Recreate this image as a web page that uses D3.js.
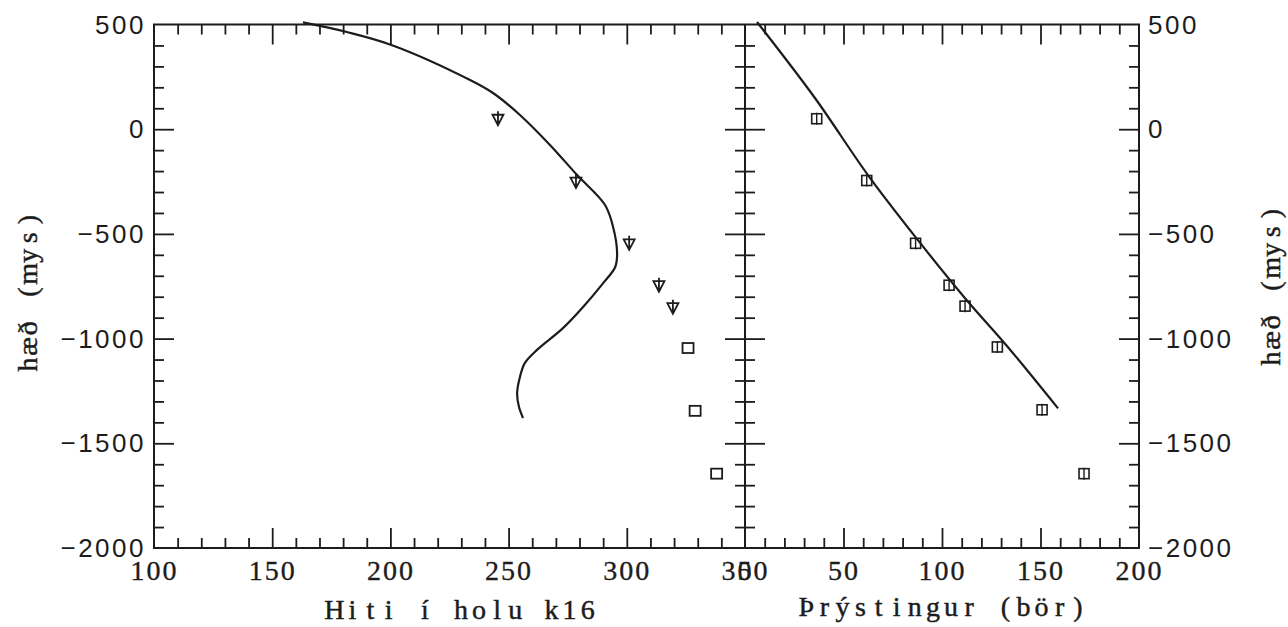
<!DOCTYPE html>
<html>
<head>
<meta charset="utf-8">
<script src="https://cdn.jsdelivr.net/npm/d3@7"></script>
<style>
  body { margin: 0; background: #fff; }
  svg { display: block; }
</style>
</head>
<body>
<div id="container"></div>
<script>
// <--------- data --------->
// left panel: temperature curve (Hiti) vs depth
let curveTemp  = [163, 181.6, 201, 233.7, 243.4, 254.8, 267.5, 278.9, 290.8, 294.2, 295.9, 295.1, 290, 281.5, 273, 262, 256.9, 254.8, 253.6, 254.4, 256.1];
let curveDepth = [510, 464, 400, 235, 173, 68, -75, -218, -362, -467, -591, -658, -735, -849, -950, -1054, -1116, -1183, -1260, -1327, -1379];

// left panel: triangle markers
let triTemp  = [245.5, 278.5, 301, 313.6, 319.5];
let triDepth = [50, -250, -545, -745, -850];

// left panel: square markers
let sqTemp  = [325.9, 328.9, 338];
let sqDepth = [-1045, -1345, -1645];

// right panel: pressure points (Þrýstingur) vs depth
let presVal   = [36.4, 61.8, 86.6, 103.6, 111.7, 128.1, 150.8, 172.1];
let presDepth = [50, -245, -545, -745, -845, -1040, -1340, -1645];

// right panel: pressure line
let lineVal   = [6.1, 35.5, 62.4, 87.8, 111.7, 133.5, 158.9];
let lineDepth = [512, 149, -219, -530, -807, -1041, -1333];

// tick labels
let tempTicks  = [100, 150, 200, 250, 300, 350];
let presTicks  = [0, 50, 100, 150, 200];
let depthTicks = [500, 0, -500, -1000, -1500, -2000];

// <--------- canvas --------->
let W = 1288, H = 627;
let L = 154, M = 745, R = 1139, T = 24.5, B = 548;
let ink = "#1c1c1c";

let viz = d3.select("#container")
  .append("svg")
    .attr("width", W)
    .attr("height", H)
    .style("background-color", "#fff");

let xL = d3.scaleLinear().domain([100, 350]).range([L, M]);
let xR = d3.scaleLinear().domain([0, 200]).range([M, R]);
let y  = d3.scaleLinear().domain([-2000, 500]).range([B, T]);

// minor / major tick values
let tempMinor  = d3.range(110, 350, 10).filter(d => d % 50 != 0);
let tempMajor  = [150, 200, 250, 300];
let presMinor  = d3.range(10, 200, 10).filter(d => d % 50 != 0);
let presMajor  = [50, 100, 150];
let depthMinor = d3.range(-1900, 500, 100).filter(d => d % 500 != 0);
let depthMajor = [-1500, -1000, -500, 0];

function tickGroup(axis, vals, size, tx, ty){
  let g = viz.append("g")
    .attr("transform", "translate(" + tx + "," + ty + ")")
    .call(axis.tickValues(vals).tickSize(size).tickSizeOuter(0).tickFormat(""));
  g.select(".domain").remove();
  g.selectAll("line").attr("stroke", ink).attr("stroke-width", 1.8);
  return g;
}

// left panel ticks
tickGroup(d3.axisTop(xL), tempMinor, -10, 0, T);
tickGroup(d3.axisTop(xL), tempMajor, -20, 0, T);
tickGroup(d3.axisBottom(xL), tempMinor, -10, 0, B);
tickGroup(d3.axisBottom(xL), tempMajor, -20, 0, B);
tickGroup(d3.axisLeft(y), depthMinor, -10, L, 0);
tickGroup(d3.axisLeft(y), depthMajor, -20, L, 0);

// middle divider, ticks both sides
tickGroup(d3.axisRight(y), depthMinor, -10, M, 0);
tickGroup(d3.axisRight(y), depthMajor, -20, M, 0);
tickGroup(d3.axisLeft(y), depthMinor, -10, M, 0);
tickGroup(d3.axisLeft(y), depthMajor, -20, M, 0);

// right panel ticks
tickGroup(d3.axisTop(xR), presMinor, -10, 0, T);
tickGroup(d3.axisTop(xR), presMajor, -20, 0, T);
tickGroup(d3.axisBottom(xR), presMinor, -10, 0, B);
tickGroup(d3.axisBottom(xR), presMajor, -20, 0, B);
tickGroup(d3.axisRight(y), depthMinor, -10, R, 0);
tickGroup(d3.axisRight(y), depthMajor, -20, R, 0);

// frames
viz.append("rect")
  .attr("x", L).attr("y", T)
  .attr("width", R - L).attr("height", B - T)
  .attr("fill", "none").attr("stroke", ink).attr("stroke-width", 2);
viz.append("line")
  .attr("x1", M).attr("x2", M).attr("y1", T).attr("y2", B)
  .attr("stroke", ink).attr("stroke-width", 2);

// <--------- tick labels --------->
function labelGroup(axis, vals, tx, ty){
  let g = viz.append("g")
    .attr("transform", "translate(" + tx + "," + ty + ")")
    .call(axis.tickValues(vals).tickSize(0).tickPadding(8).tickFormat(d3.format("")));
  g.select(".domain").remove();
  g.selectAll("line").remove();
  g.selectAll("text").attr("fill", ink);
  return g;
}

let bl = labelGroup(d3.axisBottom(xL), tempTicks, 0, B);
let br = labelGroup(d3.axisBottom(xR), presTicks, 0, B);
[bl, br].forEach(g => g
  .style("font-family", "'Liberation Serif', 'DejaVu Serif', serif")
  .style("font-size", "28px")
  .selectAll("text")
    .style("letter-spacing", "2px")
    .attr("stroke", ink).attr("stroke-width", 0.35)
    .attr("dy", "0.7em")
    .attr("y", 12));

let ll = labelGroup(d3.axisLeft(y), depthTicks, L, 0);
let rl = labelGroup(d3.axisRight(y), depthTicks, R, 0);
[ll, rl].forEach(g => g
  .style("font-family", "'Liberation Sans', Arial, sans-serif")
  .style("font-size", "26px")
  .selectAll("text")
    .style("letter-spacing", "2.5px")
    .attr("dy", "0.33em"));
ll.selectAll("text").attr("x", -8);
rl.selectAll("text").attr("x", 9);

// <--------- axis titles, typewriter-like grid of serif letters --------->
let pitch = 18.1;

function gridTitle(str, cx, cy, angle){
  let chars = Array.from(str);
  let g = viz.append("g")
    .attr("transform", "translate(" + cx + "," + cy + ") rotate(" + angle + ")");
  g.append("text")
    .attr("x", chars.map((c, i) => ((i - (chars.length - 1) / 2) * pitch).toFixed(1)).join(" "))
    .attr("y", 0)
    .attr("text-anchor", "middle")
    .style("font-family", "'Liberation Serif', 'DejaVu Serif', serif")
    .style("font-size", "28px")
    .attr("fill", ink)
    .attr("stroke", ink).attr("stroke-width", 0.45)
    .text(str);
}

gridTitle("Hiti í holu k16", 461, 619, 0);
gridTitle("Þrýstingur (bör)", 942, 616, 0);
gridTitle("hæð (mys)", 37, 292, -90);
gridTitle("hæð (mys)", 1280, 286, -90);

// <--------- curves --------->
let tempLine = d3.line()
  .x(d => xL(d[0]))
  .y(d => y(d[1]))
  .curve(d3.curveCatmullRom);

viz.append("path")
  .attr("d", tempLine(d3.zip(curveTemp, curveDepth)))
  .attr("fill", "none").attr("stroke", ink).attr("stroke-width", 2.2);

let presLine = d3.line()
  .x(d => xR(d[0]))
  .y(d => y(d[1]))
  .curve(d3.curveCatmullRom);

viz.append("path")
  .attr("d", presLine(d3.zip(lineVal, lineDepth)))
  .attr("fill", "none").attr("stroke", ink).attr("stroke-width", 2.2);

// <--------- markers --------->
let triPath = "M-5.5,-4L5.5,-4L0,6.5Z M0,-7.5L0,6.5";

viz.selectAll(".tri").data(d3.zip(triTemp, triDepth)).enter()
  .append("path")
    .attr("class", "tri")
    .attr("transform", d => "translate(" + xL(d[0]) + "," + y(d[1]) + ")")
    .attr("d", triPath)
    .attr("fill", "none").attr("stroke", ink).attr("stroke-width", 1.8);

viz.selectAll(".sqL").data(d3.zip(sqTemp, sqDepth)).enter()
  .append("rect")
    .attr("class", "sqL")
    .attr("x", d => xL(d[0]) - 5.5)
    .attr("y", d => y(d[1]) - 5)
    .attr("width", 11).attr("height", 10)
    .attr("fill", "none").attr("stroke", ink).attr("stroke-width", 1.8);

let presG = viz.selectAll(".pres").data(d3.zip(presVal, presDepth)).enter()
  .append("g")
    .attr("class", "pres")
    .attr("transform", d => "translate(" + xR(d[0]) + "," + y(d[1]) + ")");

presG.append("rect")
  .attr("x", -5).attr("y", -5)
  .attr("width", 10).attr("height", 10)
  .attr("fill", "none").attr("stroke", ink).attr("stroke-width", 1.6);

presG.append("line")
  .attr("x1", 0).attr("x2", 0).attr("y1", -6).attr("y2", 6)
  .attr("stroke", ink).attr("stroke-width", 1.4);
</script>
</body>
</html>
